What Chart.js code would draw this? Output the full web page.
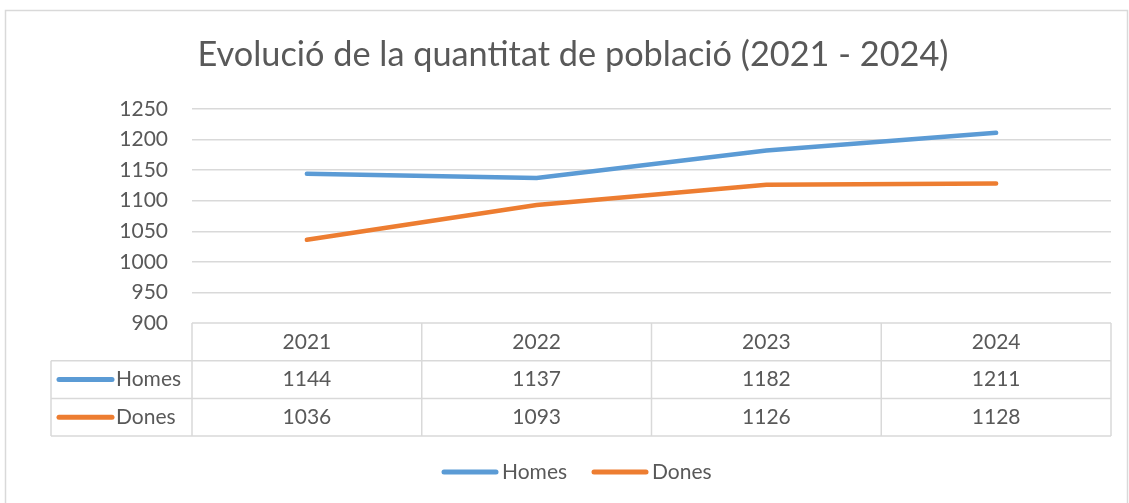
<!DOCTYPE html>
<html>
<head>
<meta charset="utf-8">
<script src="https://cdn.jsdelivr.net/npm/chart.js@4"></script>
<style>
  html, body { margin: 0; padding: 0; background: #fff; }
  #wrap { width: 1129px; height: 503px; }
</style>
</head>
<body>
<div id="wrap"><canvas id="canvas" width="1129" height="503"></canvas></div>
<script>
var anys = ['2021', '2022', '2023', '2024'];
var homes = [1144, 1137, 1182, 1211];
var dones = [1036, 1093, 1126, 1128];
var yTicks = [900, 950, 1000, 1050, 1100, 1150, 1200, 1250];

var blau = '#5B9BD5';
var taronja = '#ED7D31';
var gris = '#595959';
var linia = '#d9d9d9';
var font = 'Lato, "Open Sans", sans-serif';

// border round the whole chart, data table under the plot, legend at the bottom
var taulaPlugin = {
   id: 'taula',
   beforeDraw: function(chart) {
       var ctx = chart.ctx;
       ctx.save();
       ctx.fillStyle = '#fff';
       ctx.fillRect(0, 0, chart.width, chart.height);
       ctx.strokeStyle = linia;
       ctx.lineWidth = 1.5;
       ctx.strokeRect(5.5, 10.5, 1122, 600);
       ctx.restore();
   },
   afterDraw: function(chart) {
       var ctx = chart.ctx;
       var area = chart.chartArea;
       var x = chart.scales.x;
       var rowH = 37.7;
       var left = 51;
       var top = area.bottom;
       var colW = (area.right - area.left) / anys.length;
       var files = chart.data.datasets.map(function(d) {
           return { nom: d.label, color: d.borderColor, valors: d.data };
       });

       ctx.save();
       ctx.strokeStyle = linia;
       ctx.lineWidth = 1.5;
       ctx.beginPath();
       ctx.moveTo(area.left, top);
       ctx.lineTo(area.right, top);
       for (var r = 1; r <= 3; r++) {
           ctx.moveTo(left, top + r * rowH);
           ctx.lineTo(area.right, top + r * rowH);
       }
       for (var c = 0; c <= anys.length; c++) {
           var cx = area.left + c * colW;
           ctx.moveTo(cx, top);
           ctx.lineTo(cx, top + 3 * rowH);
       }
       ctx.moveTo(left, top + rowH);
       ctx.lineTo(left, top + 3 * rowH);
       ctx.stroke();

       ctx.fillStyle = gris;
       ctx.font = '21px ' + font;
       ctx.textAlign = 'center';
       ctx.textBaseline = 'middle';
       anys.forEach(function(a, i) {
           ctx.fillText(a, x.getPixelForValue(i), top + rowH / 2);
       });
       ctx.lineCap = 'round';
       ctx.lineWidth = 5;
       files.forEach(function(f, r) {
           var cy = top + (r + 1.5) * rowH;
           ctx.textAlign = 'center';
           f.valors.forEach(function(v, i) {
               ctx.fillText(String(v), x.getPixelForValue(i), cy);
           });
           ctx.strokeStyle = f.color;
           ctx.beginPath();
           ctx.moveTo(59, cy);
           ctx.lineTo(112, cy);
           ctx.stroke();
           ctx.textAlign = 'left';
           ctx.fillText(f.nom, 116, cy);
       });

       // legend
       var ly = 472;
       var lx = [442, 592];
       files.forEach(function(f, i) {
           ctx.strokeStyle = f.color;
           ctx.beginPath();
           ctx.moveTo(lx[i] + 2, ly);
           ctx.lineTo(lx[i] + 54, ly);
           ctx.stroke();
           ctx.textAlign = 'left';
           ctx.fillText(f.nom, lx[i] + 60, ly);
       });
       ctx.restore();
   }
};

var ctx = document.getElementById('canvas').getContext('2d');
var myChart = new Chart(ctx, {
   type: 'line',
   data: {
       labels: anys,
       datasets: [{
           label: 'Homes',
           data: homes,
           borderColor: blau,
           backgroundColor: blau,
           borderWidth: 4.5,
           borderCapStyle: 'round',
           pointRadius: 0,
           tension: 0
       }, {
           label: 'Dones',
           data: dones,
           borderColor: taronja,
           backgroundColor: taronja,
           borderWidth: 4.5,
           borderCapStyle: 'round',
           pointRadius: 0,
           tension: 0
       }]
   },
   options: {
       responsive: false,
       animation: false,
       layout: { padding: { top: 0, right: 18, bottom: 67, left: 35 } },
       plugins: {
           title: {
               display: true,
               text: 'Evolució de la quantitat de població (2021 - 2024)',
               color: gris,
               font: { family: font, size: 34.3, weight: 'normal' },
               padding: { top: 34.4, bottom: 33.4 }
           },
           legend: { display: false },
           tooltip: { enabled: false }
       },
       scales: {
           x: {
               offset: true,
               ticks: { display: false },
               grid: { display: false },
               border: { display: false },
               afterFit: function(scale) { scale.height = 113; }
           },
           y: {
               min: 900,
               max: 1250,
               afterBuildTicks: function(scale) {
                   scale.ticks = yTicks.map(function(v) { return { value: v }; });
               },
               ticks: {
                   color: gris,
                   font: { family: font, size: 21 },
                   padding: 24,
                   callback: function(v) { return String(v); }
               },
               grid: {
                   color: function(c) { return c.tick.value === 900 ? 'rgba(0,0,0,0)' : linia; },
                   lineWidth: 1.5,
                   drawTicks: false
               },
               border: { display: false },
               afterFit: function(scale) { scale.width = 157; }
           }
       }
   },
   plugins: [taulaPlugin]
});
</script>
</body>
</html>
